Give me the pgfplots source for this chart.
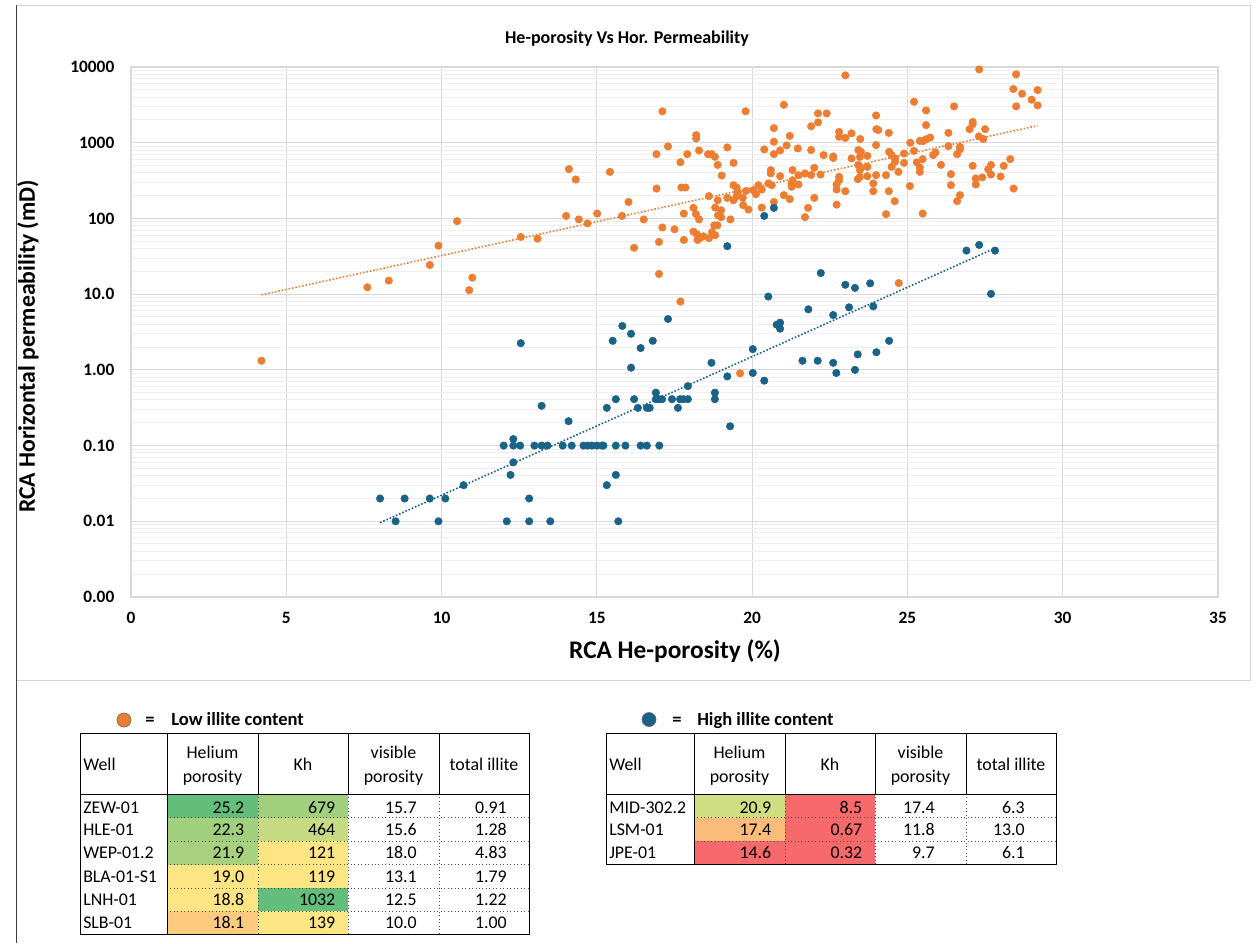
\documentclass[border=0pt]{standalone}
\usepackage{fontspec}
\setmainfont{Carlito}
\usepackage{pgfplots}
\pgfplotsset{compat=1.18}

\definecolor{lowill}{HTML}{ED7D31}
\definecolor{highill}{HTML}{1A6388}
\definecolor{gridmaj}{HTML}{D9D9D9}
\definecolor{gridmin}{HTML}{EFEFEF}
% colour-scale fills of the well tables
\definecolor{cgreen}{HTML}{63BE7B}
\definecolor{cgreenB}{HTML}{A2CF7E}
\definecolor{cgreenC}{HTML}{A8D17F}
\definecolor{cgreenD}{HTML}{C6DA81}
\definecolor{cyellow}{HTML}{FEE583}
\definecolor{cyellowB}{HTML}{FCE683}
\definecolor{cyellowgreen}{HTML}{D0DE82}
\definecolor{corange}{HTML}{FDCB7D}
\definecolor{corangeB}{HTML}{FBBB7A}
\definecolor{cred}{HTML}{F8696B}

\newcommand{\tabfont}{\fontsize{13.4}{15}\selectfont}

\begin{document}
\begin{tikzpicture}[x=0.75pt,y=-0.75pt]
\useasboundingbox (0,0) rectangle (1256,943);
\fill[white] (0,0) rectangle (1256,943);

% chart area frame
\draw[gray!35, line width=0.75pt] (16,5) rectangle (1250,680);
\draw[black!75, line width=0.6pt] (16,5) -- (16,943);

\begin{scope}[x=1cm,y=1cm]
\begin{axis}[
  at={(98.25pt,-447.75pt)}, anchor=south west,
  width=815.25pt, height=397.5pt, scale only axis,
  xmin=0, xmax=35,
  ymode=log, ymin=0.001, ymax=10000,
  xtick={0,5,...,35},
  xticklabels={0,5,10,15,20,25,30,35},
  ytick={0.001,0.01,0.1,1,10,100,1000,10000},
  yticklabels={0.00,0.01,0.10,1.00,10.0,100,1000,10000},
  minor ytick={0.002,0.003,...,0.0095,0.02,0.03,...,0.095,0.2,0.3,...,0.95,2,3,...,9,20,30,...,90,200,300,...,900,2000,3000,...,9000},
  xmajorgrids, ymajorgrids, yminorgrids,
  major grid style={draw=gridmaj, line width=0.75pt},
  minor grid style={draw=gridmin, line width=0.75pt},
  axis line style={draw=gridmaj, line width=1.1pt},
  major tick length=0pt, minor tick length=0pt,
  tick style={draw=none},
  ticklabel style={font=\fontsize{13}{15}\selectfont\bfseries},
  yticklabel style={xshift=-9pt},
  xticklabel style={yshift=-8pt},
  clip=false,
]
% low illite content wells
\addplot[only marks, mark=*, mark size=2.8pt, draw=lowill, fill=lowill] table {
x y
4.20 1.32
7.61 12.3
8.30 15.1
9.62 24.3
9.90 43.7
10.50 92
10.89 11.3
10.99 16.5
12.55 57
13.09 54
14.01 108
14.10 448
14.32 327
14.42 97
14.70 86
15.01 116
15.42 412
15.81 108
16.02 165
16.20 41
16.51 97
16.92 706
16.92 248
17.00 49
17.00 18.5
17.11 2600
17.11 76
17.29 893
17.50 72
17.69 553
17.69 8.0
17.72 256
17.85 256
17.80 52
17.80 116
17.91 706
18.11 138
18.19 114
18.29 97
18.11 67
18.22 62
18.32 55
18.43 58
18.24 52
18.61 55
18.71 66
18.81 60
18.78 81
18.88 81
18.81 139
19.00 128
18.90 110
19.00 104
19.30 97
18.20 1260
18.20 1140
18.29 791
18.58 706
18.70 706
18.80 652
18.61 197
18.89 174
18.89 510
19.02 369
19.20 867
19.40 542
19.40 275
19.50 256
19.54 224
19.50 197
19.40 174
19.20 187
19.70 187
19.71 150
19.88 131
19.80 231
19.79 2600
19.61 0.90
20.04 236
20.20 275
20.12 209
20.31 241
20.52 290
20.63 275
20.31 139
20.70 165
20.39 816
20.70 1560
20.70 1030
20.70 706
20.60 435
20.60 393
20.90 361
20.90 791
21.02 203
21.21 180
21.02 3170
21.11 920
21.21 1230
21.27 290
21.27 262
21.30 435
21.30 320
21.47 840
21.49 373
21.49 281
21.70 393
21.70 104
21.80 138
21.90 375
21.90 800
21.90 1650
22.00 466
22.00 187
22.12 1860
22.12 2440
22.20 380
22.30 686
22.40 2440
22.61 630
22.61 660
22.72 281
22.72 241
22.72 152
22.80 354
22.80 320
22.80 1390
22.80 1200
23.00 1160
23.00 7760
23.00 229
23.20 1330
23.20 620
23.40 330
23.47 354
23.42 510
23.47 435
23.50 466
23.50 760
23.42 800
23.47 650
23.48 1120
23.71 480
23.71 670
23.71 361
23.90 290
23.90 229
23.99 373
23.99 930
23.99 2290
24.00 1510
24.06 1470
24.31 373
24.31 114
24.40 229
24.40 1350
24.41 760
24.49 686
24.60 620
24.60 560
24.49 480
24.71 412
24.59 169
24.72 14.0
24.89 720
24.89 542
25.09 1000
25.08 268
25.21 780
25.21 3480
25.30 550
25.40 470
25.40 412
25.40 1060
25.50 1050
25.49 607
25.49 116
25.60 1110
25.60 2670
25.60 1710
25.73 1170
25.83 686
25.90 745
26.08 510
26.32 1350
26.32 900
26.40 385
26.40 275
26.50 3020
26.60 706
26.60 169
26.69 880
26.69 820
26.69 203
27.00 1510
27.10 1880
27.10 1760
27.10 495
27.20 338
27.20 281
27.31 9300
27.30 1210
27.44 1120
27.41 348
27.50 1510
27.60 445
27.69 510
27.69 380
28.00 358
28.10 495
28.31 607
28.42 248
28.41 5120
28.50 8000
28.50 3020
28.69 4440
29.00 3700
29.19 4960
29.19 3110
};
% high illite content wells
\addplot[only marks, mark=*, mark size=2.8pt, draw=highill, fill=highill] table {
x y
8.02 0.020
8.52 0.010
8.81 0.020
9.62 0.020
9.90 0.010
10.12 0.020
10.71 0.030
12.00 0.10
12.10 0.010
12.22 0.041
12.31 0.10
12.31 0.122
12.31 0.060
12.53 0.10
12.55 2.25
12.82 0.020
12.82 0.010
12.99 0.10
13.22 0.10
13.22 0.335
13.41 0.10
13.50 0.010
13.90 0.10
14.09 0.21
14.19 0.10
14.57 0.10
14.70 0.10
14.84 0.10
15.00 0.10
15.16 0.10
15.21 0.10
15.32 0.030
15.32 0.315
15.51 2.42
15.61 0.10
15.61 0.041
15.61 0.41
15.69 0.010
15.82 3.8
15.92 0.10
16.10 3.0
16.10 1.07
16.20 0.41
16.32 0.315
16.41 0.10
16.41 1.94
16.61 0.10
16.61 0.315
16.70 0.315
16.80 2.42
16.90 0.50
16.90 0.41
17.01 0.10
17.00 0.41
17.10 0.41
17.29 4.7
17.42 0.41
17.61 0.315
17.68 0.41
17.79 0.41
17.93 0.41
17.93 0.61
18.69 1.24
18.80 0.50
18.80 0.41
19.20 0.82
19.20 43
19.29 0.18
20.02 1.88
20.02 0.91
20.39 0.72
20.39 108
20.52 9.3
20.70 138
20.79 3.95
20.90 4.2
20.90 3.5
21.62 1.32
21.81 6.3
22.11 1.32
22.21 19
22.61 5.3
22.61 1.24
22.71 0.91
23.00 13.3
23.12 6.7
23.31 12.1
23.31 1.0
23.40 1.6
23.80 13.9
23.90 6.9
24.00 1.71
24.41 2.42
26.90 37.6
27.31 44.7
27.82 37.6
27.69 10.1
};
% exponential trendlines
\addplot[lowill, line width=1.2pt, dash pattern=on 1.2pt off 1.4pt] coordinates {(4.2,9.8) (29.19,1680)};
\addplot[highill, line width=1.2pt, dash pattern=on 1.2pt off 1.4pt] coordinates {(8.02,0.0096) (27.82,40.4)};
\end{axis}
\end{scope}

% titles
\node[font=\fontsize{13.5}{16}\selectfont\bfseries] at (627,39) {He-porosity Vs Hor. Permeability};
\node[font=\fontsize{17.8}{22}\selectfont\bfseries, rotate=90] at (28,346.5) {RCA Horizontal permeability (mD)};
\node[font=\fontsize{19}{22}\selectfont\bfseries] at (675,651) {RCA He-porosity (\%)};

% ---------- legend keys ----------
\filldraw[fill=lowill, draw=black!60, line width=0.5pt] (124,720) circle (7);
\node[font=\fontsize{13.9}{16}\selectfont\bfseries, anchor=base] at (150,725) {=};
\node[font=\fontsize{13.9}{16}\selectfont\bfseries, anchor=base west, inner sep=0pt] at (171,725) {Low illite content};
\filldraw[fill=highill, draw=black!60, line width=0.5pt] (649,719.5) circle (7);
\node[font=\fontsize{13.9}{16}\selectfont\bfseries, anchor=base] at (677,725) {=};
\node[font=\fontsize{13.9}{16}\selectfont\bfseries, anchor=base west, inner sep=0pt] at (697,725) {High illite content};

% ---------- low illite table ----------
\begin{scope}[font=\tabfont]
% cell fills
\fill[cgreen]   (167,794) rectangle (258,817.5);
\fill[cgreenB]  (167,817.5) rectangle (258,841);
\fill[cgreenC]  (167,841) rectangle (258,864.5);
\fill[cyellow]  (167,864.5) rectangle (258,888);
\fill[cyellow]  (167,888) rectangle (258,911);
\fill[corange]  (167,911) rectangle (258,934.5);
\fill[cgreenB]  (258,794) rectangle (348,817.5);
\fill[cgreenD]  (258,817.5) rectangle (348,841);
\fill[cyellow]  (258,841) rectangle (348,864.5);
\fill[cyellow]  (258,864.5) rectangle (348,888);
\fill[cgreen]   (258,888) rectangle (348,911);
\fill[cyellowB] (258,911) rectangle (348,934.5);
% rules
\foreach \yy in {817.5,841,864.5,888,911}
  \draw[black!70, line width=0.6pt, dotted] (167,\yy) -- (529,\yy);
\foreach \xx in {258,348,439}
  \draw[black!70, line width=0.6pt, dotted] (\xx,794) -- (\xx,934.5);
\draw[black, line width=0.6pt] (167,733) -- (167,934.5);
\foreach \xx in {258,348,439}
  \draw[black, line width=0.6pt] (\xx,733) -- (\xx,794);
\draw[black, line width=0.6pt] (80,794) -- (529,794);
\draw[black, line width=0.75pt] (80,733) rectangle (529,934.5);
% header
\node[anchor=base west, inner sep=0pt] at (83,770.7) {Well};
\node[anchor=base, inner sep=0pt] at (212.5,758.4) {Helium};
\node[anchor=base, inner sep=0pt] at (212.5,782.8) {porosity};
\node[anchor=base, inner sep=0pt] at (303,770.7) {Kh};
\node[anchor=base, inner sep=0pt] at (393.5,758.4) {visible};
\node[anchor=base, inner sep=0pt] at (393.5,782.8) {porosity};
\node[anchor=base, inner sep=0pt] at (484,770.7) {total illite};
% rows
\foreach \yb/\w/\hp/\kh/\vp/\ti in {
  813.9/ZEW-01/25.2/679/15.7/0.91,
  835.6/HLE-01/22.3/464/15.6/1.28,
  858.9/WEP-01.2/21.9/121/18.0/4.83,
  882.3/BLA-01-S1/19.0/119/13.1/1.79,
  905.6/LNH-01/18.8/1032/12.5/1.22,
  928.3/SLB-01/18.1/139/10.0/1.00}{
  \node[anchor=base west, inner sep=0pt] at (83,\yb) {\w};
  \node[anchor=base east, inner sep=0pt] at (244.5,\yb) {\hp};
  \node[anchor=base east, inner sep=0pt] at (335.5,\yb) {\kh};
  \node[anchor=base east, inner sep=0pt] at (417,\yb) {\vp};
  \node[anchor=base east, inner sep=0pt] at (507,\yb) {\ti};
}
\end{scope}

% ---------- high illite table ----------
\begin{scope}[font=\tabfont]
\fill[cyellowgreen] (694,794) rectangle (785,817.5);
\fill[corangeB]     (694,817.5) rectangle (785,841);
\fill[cred]         (694,841) rectangle (785,864.5);
\fill[cred]         (785,794) rectangle (875,817.5);
\fill[cred]         (785,817.5) rectangle (875,841);
\fill[cred]         (785,841) rectangle (875,864.5);
\foreach \yy in {817.5,841}
  \draw[black!70, line width=0.6pt, dotted] (694,\yy) -- (1056,\yy);
\foreach \xx in {785,875,966}
  \draw[black!70, line width=0.6pt, dotted] (\xx,794) -- (\xx,864.5);
\draw[black, line width=0.6pt] (694,733) -- (694,864.5);
\foreach \xx in {785,875,966}
  \draw[black, line width=0.6pt] (\xx,733) -- (\xx,794);
\draw[black, line width=0.6pt] (606,794) -- (1056,794);
\draw[black, line width=0.75pt] (606,733) rectangle (1056,864.5);
\node[anchor=base west, inner sep=0pt] at (609,770.7) {Well};
\node[anchor=base, inner sep=0pt] at (739.5,758.4) {Helium};
\node[anchor=base, inner sep=0pt] at (739.5,782.8) {porosity};
\node[anchor=base, inner sep=0pt] at (830,770.7) {Kh};
\node[anchor=base, inner sep=0pt] at (920.5,758.4) {visible};
\node[anchor=base, inner sep=0pt] at (920.5,782.8) {porosity};
\node[anchor=base, inner sep=0pt] at (1011,770.7) {total illite};
\foreach \yb/\w/\hp/\kh/\vp/\ti in {
  813.6/MID-302.2/20.9/8.5/17.4/6.3,
  835.6/LSM-01/17.4/0.67/11.8/13.0,
  858.6/JPE-01/14.6/0.32/9.7/6.1}{
  \node[anchor=base west, inner sep=0pt] at (609,\yb) {\w};
  \node[anchor=base east, inner sep=0pt] at (771.5,\yb) {\hp};
  \node[anchor=base east, inner sep=0pt] at (862.5,\yb) {\kh};
  \node[anchor=base east, inner sep=0pt] at (935,\yb) {\vp};
  \node[anchor=base east, inner sep=0pt] at (1025,\yb) {\ti};
}
\end{scope}
\end{tikzpicture}
\end{document}
